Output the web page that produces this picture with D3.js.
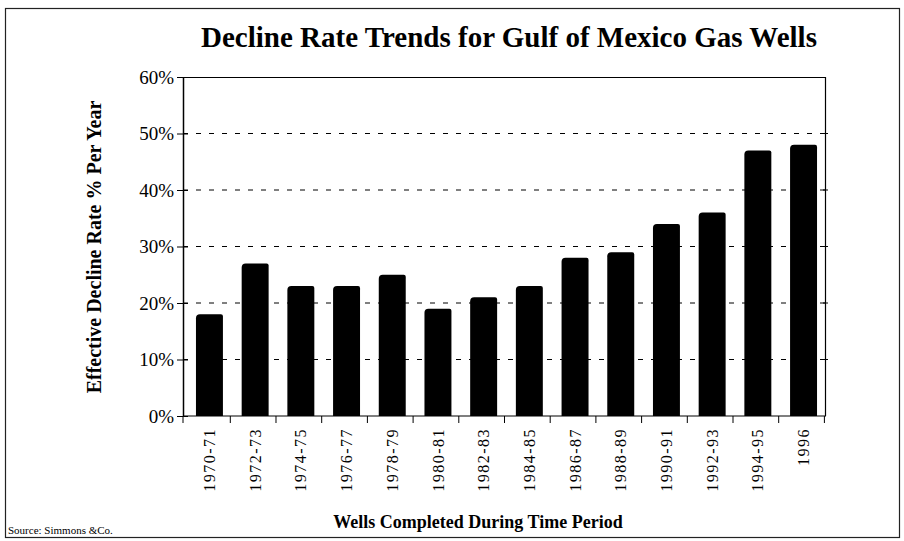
<!DOCTYPE html>
<html>
<head>
<meta charset="utf-8">
<script src="https://cdn.jsdelivr.net/npm/d3@7"></script>
<style>
  body { margin: 0; background: #fff; }
  text { fill: #000; }
</style>
</head>
<body>
<div id="chart"></div>
<script>
// data
const periods = ['1970-71', '1972-73', '1974-75', '1976-77', '1978-79', '1980-81', '1982-83',
  '1984-85', '1986-87', '1988-89', '1990-91', '1992-93', '1994-95', '1996']
const declineRates = [18, 27, 23, 23, 25, 19, 21, 23, 28, 29, 34, 36, 47, 48]
const yTicks = [0, 10, 20, 30, 40, 50, 60]

const width = 904, height = 541
const margin = { top: 77, right: 78, bottom: 125, left: 183 }
const innerW = width - margin.left - margin.right
const innerH = height - margin.top - margin.bottom
const serif = '"Liberation Serif", "Times New Roman", serif'

const svg = d3.select('#chart').append('svg')
  .attr('width', width)
  .attr('height', height)

// outer frame
svg.append('rect')
  .attr('x', 5.5).attr('y', 8.5)
  .attr('width', 894).attr('height', 529)
  .attr('fill', 'none').attr('stroke', '#222').attr('stroke-width', 1.2)

svg.append('text')
  .attr('x', 509).attr('y', 47)
  .attr('text-anchor', 'middle')
  .style('font-family', serif).style('font-weight', 'bold').style('font-size', '29px')
  .text('Decline Rate Trends for Gulf of Mexico Gas Wells')

const g = svg.append('g').attr('transform', `translate(${margin.left},${margin.top})`)

const x = d3.scaleBand().domain(periods).range([0, innerW]).paddingInner(0.41).paddingOuter(0.24)
const y = d3.scaleLinear().domain([0, 60]).range([innerH, 0])

// dashed grid
g.append('g').selectAll('line')
  .data(yTicks.filter(t => t > 0 && t < 60))
  .join('line')
  .attr('x1', 0).attr('x2', innerW)
  .attr('y1', d => y(d)).attr('y2', d => y(d))
  .attr('stroke', '#000').attr('stroke-width', 1)
  .attr('stroke-dasharray', '5,8')

// plot frame (top + right)
g.append('path')
  .attr('d', `M0,0.5H${innerW - 0.5}V${innerH}`)
  .attr('fill', 'none').attr('stroke', '#000').attr('stroke-width', 1.2)

// small ticks on the right frame
g.append('g').selectAll('line')
  .data(yTicks.slice(1, -1))
  .join('line')
  .attr('x1', innerW - 3).attr('x2', innerW + 2)
  .attr('y1', d => y(d)).attr('y2', d => y(d))
  .attr('stroke', '#000')

// bars
g.append('g').selectAll('path')
  .data(declineRates)
  .join('path')
  .attr('fill', '#000')
  .attr('d', (d, i) => {
    const x0 = x(periods[i]) + 2, w = x.bandwidth(), y0 = y(d), b = y(0)
    return `M${x0},${b}V${y0 + 4}Q${x0},${y0} ${x0 + 4},${y0}H${x0 + w - 2}Q${x0 + w},${y0} ${x0 + w},${y0 + 2}V${b}Z`
  })

// y axis
const yAxis = g.append('g')
  .call(d3.axisLeft(y).tickValues(yTicks).tickFormat(d => d + '%').tickSize(6).tickSizeOuter(0))
yAxis.select('.domain').attr('stroke-width', 1.5)
yAxis.selectAll('.tick line').attr('x2', -6).attr('x1', 5)
yAxis.selectAll('text')
  .attr('x', -9)
  .style('font-family', serif).style('font-size', '19px')

// x axis, ticks between bands
const xAxis = g.append('g').attr('transform', `translate(0,${innerH})`)
xAxis.append('line').attr('x1', 0).attr('x2', innerW).attr('stroke', '#000').attr('stroke-width', 1.2)
const step = x.step()
const bounds = d3.range(periods.length + 1).map(i => x(periods[0]) - x.paddingInner() * step / 2 + i * step)
xAxis.selectAll('.xt')
  .data([0].concat(bounds.slice(1)))
  .join('line')
  .attr('x1', d => d).attr('x2', d => d)
  .attr('y1', 0).attr('y2', 7)
  .attr('stroke', '#000')

xAxis.selectAll('.xl')
  .data(periods)
  .join('text')
  .attr('transform', d => `translate(${x(d) + x.bandwidth() / 2 + 2},12) rotate(-90)`)
  .attr('text-anchor', 'end')
  .attr('dy', '0.35em')
  .style('font-family', serif).style('font-size', '16px').style('letter-spacing', '1.5px')
  .text(d => d)

// axis titles
svg.append('text')
  .attr('transform', `translate(101,247) rotate(-90)`)
  .attr('text-anchor', 'middle')
  .style('font-family', serif).style('font-weight', 'bold').style('font-size', '20px')
  .text('Effective Decline Rate % Per Year')

svg.append('text')
  .attr('x', 478).attr('y', 528)
  .attr('text-anchor', 'middle')
  .style('font-family', serif).style('font-weight', 'bold').style('font-size', '18px')
  .text('Wells Completed During Time Period')

svg.append('text')
  .attr('x', 8).attr('y', 534)
  .style('font-family', serif).style('font-size', '11px')
  .text('Source: Simmons &Co.')
</script>
</body>
</html>
